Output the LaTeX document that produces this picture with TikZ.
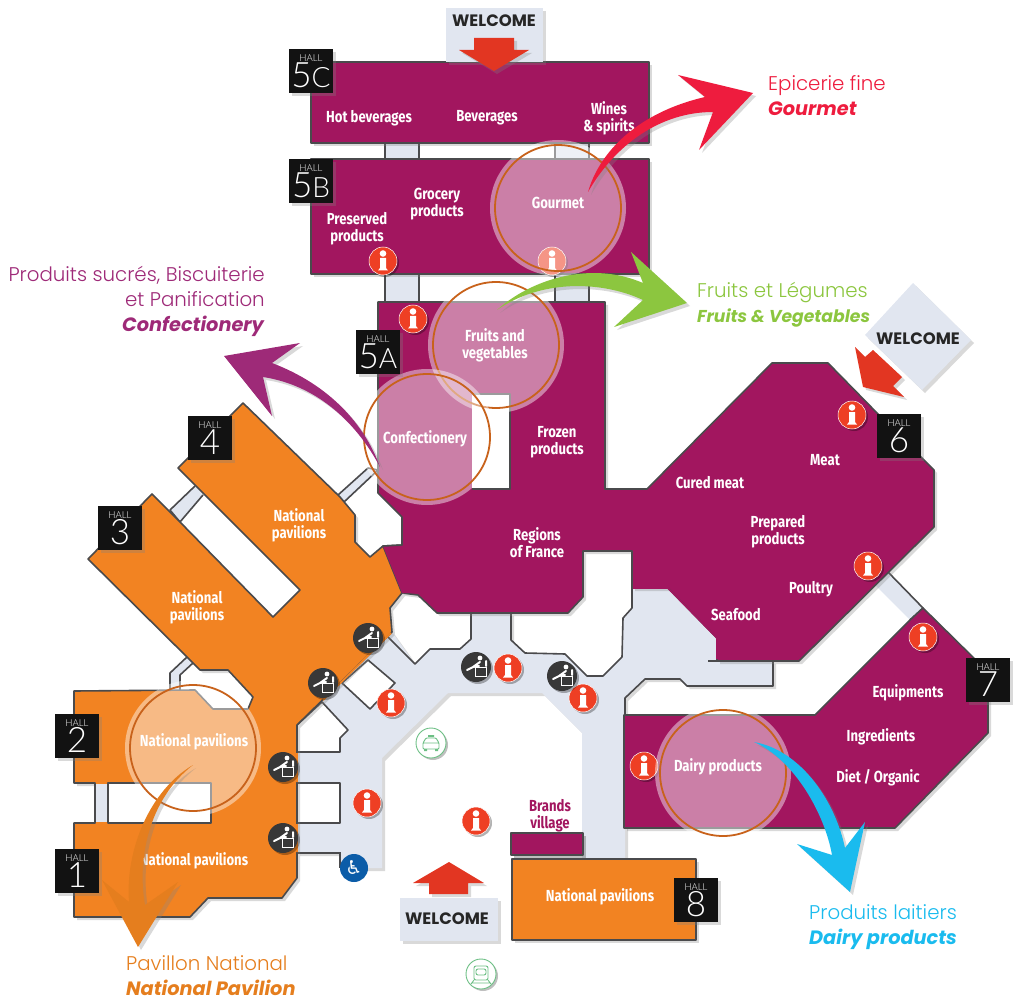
\documentclass[tikz,border=0pt]{standalone}
\usepackage{fontspec}
\usetikzlibrary{shadows}
\setmainfont{Poppins}[UprightFont=* Light,BoldFont=* Bold,BoldItalicFont=* Bold Italic,ItalicFont=* Light Italic]
\newfontfamily\zonefont[FakeStretch=0.82]{Fira Sans}
\newfontfamily\tagfont{Lato Light}
\newfontfamily\signfont{Poppins Bold}
\newfontfamily\iconfont{DejaVu Sans}
\definecolor{plum}{HTML}{A2165F}
\definecolor{pavilion}{HTML}{F28322}
\definecolor{corridor}{HTML}{E1E6F0}
\definecolor{wall}{HTML}{4A4A4C}
\definecolor{ring}{HTML}{C8621B}
\definecolor{infored}{HTML}{EE3F24}
\definecolor{arrowred}{HTML}{E23622}
\definecolor{rose}{HTML}{EE1C3E}
\definecolor{leaf}{HTML}{8CC63F}
\definecolor{sky}{HTML}{1ABBEE}
\definecolor{grape}{HTML}{9E2A78}
\definecolor{tawny}{HTML}{E57E1E}
\definecolor{cab}{HTML}{6CBF84}
\definecolor{access}{HTML}{0B5CA8}
\tikzstyle{softshadow}=[drop shadow={shadow xshift=3pt,shadow yshift=-3pt,opacity=.3}]
\tikzstyle{hallplum}=[fill=plum,draw=wall,line width=1.6pt,line join=round,softshadow]
\tikzstyle{hallorange}=[fill=pavilion,draw=wall,line width=1.6pt,line join=round,softshadow]
\tikzstyle{gap}=[fill=white,draw=wall,line width=1.6pt,line join=round]
\tikzstyle{passage}=[fill=corridor,draw=wall,line width=1.6pt,line join=round]
\tikzstyle{halltag}=[fill=black!93,minimum size=44pt,inner sep=0pt,text=white,align=center,font=\tagfont,softshadow]
\tikzstyle{zone}=[text=white,font=\zonefont\bfseries\fontsize{16}{17}\selectfont,align=center,yshift=-1pt]
\tikzstyle{spot}=[fill=white,fill opacity=.45,draw=none]
\tikzstyle{spotring}=[draw=ring,line width=1.8pt]
\tikzstyle{sign}=[fill=corridor,softshadow]
\tikzstyle{signtext}=[font=\signfont\fontsize{16.5}{17}\selectfont,text=black!85,yshift=-1pt]
\tikzstyle{callout}=[font=\fontsize{19.8}{25}\selectfont,align=left,inner sep=0pt]
\newcommand{\capbold}[1]{{\fontsize{19.3}{25}\selectfont\textbf{\textit{#1}}}}
\tikzset{
  infoicon/.pic={
    \fill[black,opacity=.3] (2,2) circle (14);
    \fill[infored,draw=white,line width=.5pt] (0,0) circle (14);
    \fill[white] (0,-7.5) circle (3.3);
    \fill[white] (-3,-3) -- (3,-3) -- (3,7) -- (5,9.5) -- (-5,9.5) -- (-3,7) -- cycle;
  },
  resticon/.pic={
    \fill[black,opacity=.3] (2,2) circle (15);
    \fill[black!78] (0,0) circle (15);
    \draw[white,line width=1pt] (-1,0) rectangle (10,9);
    \fill[white] (4,-9) circle (2.4);
    \draw[white,line width=2pt,line cap=round] (4,-5) -- (-3,0) -- (-9,3) (-3,0) -- (3,-1) (10,-6) -- (10,-1);
  },
  taxiicon/.pic={
    \fill[black,opacity=.25] (2,2) circle (15);
    \fill[white,draw=cab,line width=.9pt] (0,0) circle (15);
    \draw[cab,line width=.9pt,rounded corners=1pt] (-8,6) -- (-8,0) -- (-5,-5) -- (5,-5) -- (8,0) -- (8,6) -- cycle (-8,0) -- (8,0);
    \fill[cab] (-3,-8) rectangle (3,-6) (-7,6) rectangle (-4,8) (4,6) rectangle (7,8);
  },
  trainicon/.pic={
    \fill[black,opacity=.25] (2,2) circle (15);
    \fill[white,draw=cab,line width=.9pt] (0,0) circle (15);
    \draw[cab,line width=.9pt,rounded corners=2pt] (-7,-8) rectangle (7,6) (-5,-5) rectangle (5,1);
    \draw[cab,line width=.9pt] (-7,6) -- (-10,10) (7,6) -- (10,10) (-9,9) -- (9,9);
  }
}
\begin{document}
\begin{tikzpicture}[x=1pt,y=-1pt]
    \useasboundingbox (0,0) rectangle (1020,1000);

    % corridors
    \fill[corridor,softshadow] (392,632) -- (415,664) -- (430,649) -- (460,649) -- (471,639) -- (471,613) -- (511,613) -- (511,640) -- (525,653) -- (565,654) -- (587,676) -- (603,676) -- (622,657) -- (623,618) -- (632,608) -- (632,588) -- (668,588) -- (717,638) -- (717,661) -- (773,661) -- (773,686) -- (687,686) -- (680,679) -- (645,679) -- (625,698) -- (625,858) -- (582,858) -- (582,733) -- (542,693) -- (448,693) -- (382,758) -- (382,868) -- (340,868) -- (340,853) -- (297,853) -- (297,725) -- cycle;
    \draw[wall,line width=1.6pt,line join=round] (388,637) -- (415,664) -- (430,649) -- (460,649) -- (471,639) -- (471,613);
    \draw[wall,line width=1.6pt,line join=round] (511,613) -- (511,640) -- (525,653) -- (565,654) -- (587,676) -- (603,676) -- (622,657) -- (623,618) -- (632,608) -- (632,588);
    \draw[wall,line width=1.6pt,line join=round] (708,661) -- (773,661) -- (773,686) -- (687,686) -- (680,679) -- (645,679) -- (625,698) -- (625,716);
    \draw[wall,line width=1.6pt] (297,853) -- (340,853) -- (340,868);

    % openings in the corridors
    \draw[gap] (297,725) -- (322,702) -- (348,730) -- (340,738) -- (340,752) -- (297,752) -- cycle;
    \draw[gap] (297,783) rectangle (340,823);
    \draw[gap] (342,683) -- (368,660) -- (395,683) -- (370,709) -- cycle;

    % links between halls
    \foreach \xa/ \ya/ \yb in {385/143/159, 555/143/159, 385/274/302, 555/274/302} 
        \draw[passage] (\xa,\ya) rectangle (\xa+34,\yb);
    \draw[passage] (195,486) -- (170,510) -- (180,522) -- (203,495);
    \draw[passage] (338,495) -- (368,468) -- (378,470) -- (344,502);
    \draw[passage] (187,657) -- (170,673) -- (170,692) -- (180,692) -- (180,675) -- (193,663);
    \draw[passage] (875,585) -- (888,572) -- (923,608) -- (910,620);
    \fill[corridor] (96,783) rectangle (108,823);
    \draw[wall,line width=1.6pt] (96,783) -- (96,823) (108,783) -- (108,823);

    % halls
    \draw[hallplum] (311,62) rectangle (649,143);
    \draw[hallplum] (311,159) rectangle (649,274);
    \draw[hallplum] (378,302) -- (605,302) -- (605,489) -- (647,489) -- (772,363) -- (828,363) -- (877,413) -- (934,470) -- (934,527) -- (799,661) -- (717,661) -- (717,638) -- (668,588) -- (632,588) -- (632,551) -- (583,551) -- (583,597) -- (568,613) -- (437,613) -- (418,595) -- (402,593) -- (383,546) -- (402,545) -- (402,517) -- (378,493) -- cycle;
    \draw[plum,line width=1.8pt] (633,588) -- (668,588) -- (717,638) -- (717,659);
    \draw[hallplum] (624,715) -- (815,715) -- (910,620) -- (923,608) -- (988,672) -- (988,733) -- (895,828) -- (624,828) -- cycle;
    \draw[hallplum,softshadow] (511,833) rectangle (583,855);
    \draw[hallorange] (243,403) -- (340,497) -- (355,515) -- (355,542) -- (370,557) -- (383,546) -- (402,593) -- (390,608) -- (392,632) -- (297,725) -- (297,878) -- (282,898) -- (208,898) -- (190,917) -- (74,917) -- (74,823) -- (95,823) -- (95,783) -- (74,783) -- (74,691) -- (195,690) -- (213,709) -- (248,709) -- (253,697) -- (228,670) -- (200,670) -- (187,657) -- (88,559) -- (152,494) -- (180,522) -- (273,617) -- (300,590) -- (178,468) -- cycle;
    \draw[pavilion,line width=1.8pt] (391,633) -- (323,700) (297,753) -- (297,782) (297,824) -- (297,852);
    \draw[hallorange] (512,859) rectangle (696,940);
    \fill[plum] (383,546) -- (402,593) -- (420,593) -- (420,546) -- cycle;
    \draw[wall,line width=1.6pt] (383,546) -- (402,545);
    \draw[gap] (472,394) -- (510,394) -- (510,489) -- (472,489);
    \draw[gap] (108,783) rectangle (211,823);
    \fill[corridor] (96,784) rectangle (107,822);

    % welcome signs
    \fill[sign] (446,8) rectangle (543,62);
    \node[signtext] (welcomea) at (494,20) {WELCOME};
    \fill[arrowred,softshadow] (474,38) -- (514,38) -- (514,50) -- (529,50) -- (494,71) -- (459,50) -- (474,50) -- cycle;
    \fill[sign] (913,283) -- (971,340) -- (922,390) -- (865,335) -- cycle;
    \fill[arrowred,softshadow] (855,347) -- (865,357) -- (873,350) -- (902,377) -- (893,386) -- (904,397) -- (863,387) -- cycle;
    \node[signtext] (welcomeb) at (918,338) {WELCOME};
    \fill[sign] (400,898) rectangle (498,941);
    \node[signtext] (welcomec) at (447,918) {WELCOME};
    \fill[arrowred,softshadow] (449,862) -- (484,883) -- (468,883) -- (468,894) -- (429,894) -- (429,883) -- (413,883) -- cycle;

    % service icons
    \foreach \pos in {(383,261), (552,261), (413,319), (852,415), (868,566), (923,637), (391,703), (367,803), (508,668), (583,698), (476,821), (644,766)} 
        \pic at \pos {infoicon};
    \foreach \pos in {(368,638), (323,683), (283,767), (283,838), (476,667), (562,676)} 
        \pic at \pos {resticon};
    \pic at (431,743) {taxiicon};
    \pic at (481,974) {trainicon};
    \fill[access] (354,868) circle (14);
    \node[text=white,font=\iconfont\fontsize{19}{19}\selectfont,inner sep=0pt] (accessglyph) at (354,868) {♿};

    % highlighted zones
    \foreach \pos in {(558,208), (496,345), (427,437), (193,748), (723,773)} {
        \fill[spot] \pos circle (68);
        \draw[spotring] \pos circle (63);
    }

    % hall numbers
    \foreach \pos/ \name/ \text in {{(311,71)/5C/5{\fontsize{28}{33}\selectfont C}},{(311,181)/5B/5{\fontsize{28}{33}\selectfont B}},{(378,352)/5A/5{\fontsize{28}{33}\selectfont A}},{(210,438)/4/4},{(120,528)/3/3},{(77,736)/2/2},{(77,871)/1/1},{(696,900)/8/8},{(899,436)/6/6},{(988,680)/7/7}} 
        \node[halltag] (hall\name) at \pos {\fontsize{9.5}{10}\selectfont HALL\\\fontsize{35}{33}\selectfont \text};

    % zone names
    \foreach \pos/ \name/ \text in {{(369,117)/hot/Hot beverages},{(487,117)/bev/Beverages},{(609,117)/wines/{Wines\\\& spirits}},{(437,203)/grocery/{Grocery\\products}},{(357,228)/preserved/{Preserved\\products}},{(558,202)/gourmet/Gourmet},{(495,344)/fruits/{Fruits and\\vegetables}},{(425,438)/confect/Confectionery},{(557,441)/frozen/{Frozen\\products}},{(537,542)/regions/{Regions\\of France}},{(710,482)/cured/Cured meat},{(825,459)/meat/Meat},{(778,531)/prepared/{Prepared\\products}},{(811,588)/poultry/Poultry},{(736,614)/seafood/Seafood},{(908,692)/equip/Equipments},{(881,736)/ingr/Ingredients},{(878,777)/diet/{Diet / Organic}},{(718,766)/dairy/Dairy products},{(299,524)/natfour/{National\\pavilions}},{(197,606)/natthree/{National\\pavilions}},{(194,741)/nattwo/National pavilions},{(194,860)/natone/National pavilions},{(600,896)/nateight/National pavilions}} 
        \node[zone] (\name) at \pos {\text};
    \node[zone,text=plum] (brands) at (550,815) {Brands\\village};

    % coloured arrows
    \fill[rose,softshadow] (588,192) .. controls (600,150) and (640,112) .. (705,97) -- (678,75) -- (753,93) -- (699,150) -- (713,112) .. controls (660,112) and (615,145) .. (588,192) -- cycle;
    \fill[leaf,softshadow] (497,310) .. controls (530,280) and (590,260) .. (643,283) -- (631,252) -- (687,303) -- (614,327) -- (643,300) .. controls (600,280) and (540,280) .. (497,310) -- cycle;
    \fill[grape,softshadow] (380,467) .. controls (365,425) and (330,385) .. (272,363) -- (300,343) -- (224,356) -- (272,416) -- (263,377) .. controls (315,385) and (355,420) .. (380,467) -- cycle;
    \fill[tawny,softshadow] (193,765) .. controls (150,790) and (125,850) .. (129,902) -- (102,880) -- (138,947) -- (178,882) -- (145,905) .. controls (137,860) and (148,800) .. (193,765) -- cycle;
    \fill[sky,softshadow] (754,742) .. controls (800,750) and (835,800) .. (845,848) -- (865,822) -- (850,892) -- (797,844) -- (832,855) .. controls (825,815) and (795,760) .. (754,742) -- cycle;

    % captions
    \node[callout,text=rose,anchor=west] (gourmetcap) at (768,96) {Epicerie fine\\\capbold{Gourmet}};
    \node[callout,text=leaf,anchor=west] (fruitscap) at (697,305) {Fruits et Légumes\\{\fontsize{17.2}{25}\selectfont\textbf{\textit{Fruits \& Vegetables}}}};
    \node[callout,text=grape,anchor=east,align=right] (confectcap) at (265,301) {Produits sucrés, Biscuiterie\\et Panification\\\capbold{Confectionery}};
    \node[callout,text=tawny,anchor=west] (nationalcap) at (126,976) {Pavillon National\\\capbold{National Pavilion}};
    \node[callout,text=sky,anchor=west] (dairycap) at (809,927) {Produits laitiers\\\capbold{Dairy products}};

\end{tikzpicture}
\end{document}
